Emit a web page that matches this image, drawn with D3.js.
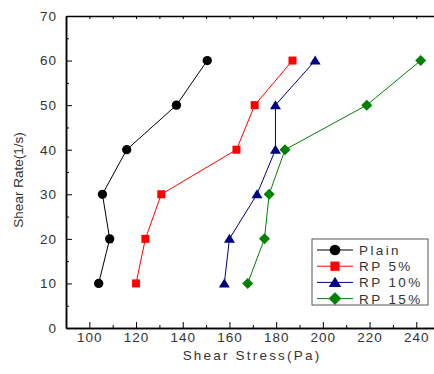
<!DOCTYPE html>
<html>
<head>
<meta charset="utf-8">
<script src="https://cdn.jsdelivr.net/npm/d3@7"></script>
<style>
  body { margin: 0; background: #fff; }
  text { font-family: "Liberation Sans", Arial, sans-serif; fill: #333; }
</style>
</head>
<body>
<div id="chart"></div>
<script>
// Data
const shearRate = [10, 20, 30, 40, 50, 60];
const plain = [104, 108.7, 105.6, 116, 137.3, 150.5];
const rp5 = [120, 124, 130.8, 163, 170.8, 187];
const rp10 = [157.8, 160, 171.8, 179.7, 179.7, 196.7];
const rp15 = [167.8, 175, 177, 183.8, 218.8, 241.9];
const seriesNames = ['Plain', 'RP 5%', 'RP 10%', 'RP 15%'];
const xTicks = [100, 120, 140, 160, 180, 200, 220, 240];
const yTicks = [0, 10, 20, 30, 40, 50, 60, 70];

const series = [
  { name: seriesNames[0], x: plain, color: '#000000', shape: 'circle' },
  { name: seriesNames[1], x: rp5, color: '#ff0000', shape: 'square' },
  { name: seriesNames[2], x: rp10, color: '#000080', shape: 'triangle' },
  { name: seriesNames[3], x: rp15, color: '#008000', shape: 'diamond' }
];

//Chart dimensions
const W = 434, H = 374;
const margin = { top: 16, left: 66 };
const plotH = 312;

// Scale
const xScale = d3.scaleLinear().domain([90, 250]).range([margin.left, margin.left + 373.6]);
const yScale = d3.scaleLinear().domain([0, 70]).range([margin.top + plotH, margin.top]);

const svg = d3.select('#chart').append('svg')
  .attr('width', W)
  .attr('height', H);

//Symbols
function symbolPath(shape) {
  if (shape === 'circle') return d3.symbol(d3.symbolCircle, 68)();
  if (shape === 'square') return d3.symbol(d3.symbolSquare, 64)();
  if (shape === 'triangle') return 'M0,-5L5.5,4L-5.5,4Z';
  return 'M0,-5.5L5.5,0L0,5.5L-5.5,0Z';
}

//Lines and markers
const line = d3.line()
  .x(d => xScale(d[0]))
  .y(d => yScale(d[1]));

series.forEach(s => {
  const pts = s.x.map((v, i) => [v, shearRate[i]]);
  svg.append('path')
    .attr('d', line(pts))
    .attr('fill', 'none')
    .attr('stroke', s.color)
    .attr('stroke-width', 1);
  svg.selectAll(null)
    .data(pts)
    .enter().append('path')
    .attr('d', symbolPath(s.shape))
    .attr('transform', d => `translate(${xScale(d[0])},${yScale(d[1])})`)
    .attr('fill', s.color);
});

//Axes (ticks inside)
const xMinor = d3.range(90, 251, 10);
const yMinor = d3.range(0, 71, 5);

svg.append('g')
  .attr('transform', `translate(0,${yScale(0)})`)
  .call(d3.axisBottom(xScale).tickValues(xTicks).tickSize(-6).tickPadding(4).tickSizeOuter(0));
svg.append('g')
  .attr('transform', `translate(0,${yScale(0)})`)
  .call(d3.axisBottom(xScale).tickValues(xMinor.filter(v => v % 20 !== 0)).tickSize(-3).tickFormat('').tickSizeOuter(0));

svg.append('g')
  .attr('transform', `translate(${margin.left},0)`)
  .call(d3.axisLeft(yScale).tickValues(yTicks).tickSize(-6).tickPadding(9).tickSizeOuter(0));
svg.append('g')
  .attr('transform', `translate(${margin.left},0)`)
  .call(d3.axisLeft(yScale).tickValues(yMinor.filter(v => v % 10 !== 0)).tickSize(-3).tickFormat('').tickSizeOuter(0));

// top frame
svg.append('g')
  .attr('transform', `translate(0,${yScale(70)})`)
  .call(d3.axisTop(xScale).tickValues(xMinor.slice(1)).tickSize(-3).tickFormat('').tickSizeOuter(0));

svg.selectAll('.domain').attr('stroke', '#000').attr('stroke-width', 1.5);
svg.selectAll('.tick line').attr('stroke', '#000');
svg.selectAll('.tick text')
  .style('font-size', '13.5px')
  .style('letter-spacing', '1px')
  .attr('fill', '#333');

//Axis titles
svg.append('text')
  .attr('x', 252)
  .attr('y', 360)
  .attr('text-anchor', 'middle')
  .style('font-size', '13.5px')
  .style('letter-spacing', '2.2px')
  .text('Shear Stress(Pa)');

svg.append('text')
  .attr('transform', `translate(23,180) rotate(-90)`)
  .attr('text-anchor', 'middle')
  .style('font-size', '13.5px')
  .text('Shear Rate(1/s)');

//Legend
const legend = svg.append('g').attr('transform', 'translate(312,239)');
legend.append('rect')
  .attr('width', 116)
  .attr('height', 66)
  .attr('fill', '#fff')
  .attr('stroke', '#555')
  .attr('stroke-width', 1);

series.forEach((s, i) => {
  const gy = 11 + i * 16.2;
  legend.append('line')
    .attr('x1', 5).attr('x2', 41)
    .attr('y1', gy).attr('y2', gy)
    .attr('stroke', s.color)
    .attr('stroke-width', 1);
  legend.append('path')
    .attr('d', symbolPath(s.shape))
    .attr('transform', `translate(23,${gy}) scale(1.15)`)
    .attr('fill', s.color);
  legend.append('text')
    .attr('x', 47)
    .attr('y', gy + 5)
    .style('font-size', '13.5px')
    .style('letter-spacing', '2.4px')
    .text(s.name);
});
</script>
</body>
</html>
